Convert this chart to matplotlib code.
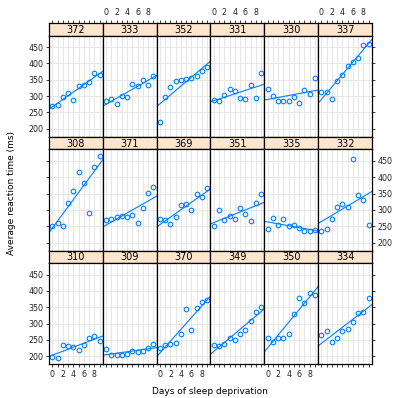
import numpy as np
import matplotlib
matplotlib.use('Agg')
import matplotlib.pyplot as plt

# Reaction times (ms) by subject, days 0..9
days = np.arange(10)
layout = [['372', '333', '352', '331', '330', '337'],
          ['308', '371', '369', '351', '335', '332'],
          ['310', '309', '370', '349', '350', '334']]
reaction = {
    '308': [249.6, 258.7, 250.8, 321.4, 356.9, 414.7, 382.2, 290.1, 430.6, 466.4],
    '309': [222.7, 205.3, 203.0, 204.7, 207.7, 216.0, 213.6, 217.7, 224.3, 237.3],
    '310': [199.1, 194.3, 234.3, 232.8, 229.3, 220.5, 235.4, 255.8, 261.0, 247.5],
    '330': [321.5, 300.4, 283.9, 285.1, 285.8, 297.6, 280.2, 318.3, 305.3, 354.0],
    '331': [287.6, 285.0, 301.8, 320.1, 316.3, 293.3, 290.1, 334.8, 293.7, 371.6],
    '332': [234.9, 242.8, 273.0, 309.8, 317.5, 310.0, 454.2, 346.8, 330.3, 253.9],
    '333': [283.8, 289.6, 276.8, 299.8, 297.2, 338.2, 332.0, 348.8, 333.4, 362.0],
    '334': [264.3, 276.2, 243.4, 254.7, 279.0, 284.2, 305.5, 331.5, 335.7, 377.3],
    '335': [241.6, 273.9, 254.5, 270.8, 251.5, 254.6, 245.5, 235.3, 235.8, 237.2],
    '337': [312.4, 313.8, 291.6, 346.1, 365.7, 391.8, 404.3, 416.7, 455.9, 458.9],
    '349': [236.1, 230.3, 238.9, 254.9, 250.7, 269.8, 281.6, 308.1, 336.3, 351.6],
    '350': [256.3, 243.5, 256.2, 255.5, 268.9, 329.7, 379.4, 362.9, 394.5, 389.1],
    '351': [250.5, 300.1, 269.9, 280.6, 271.8, 304.6, 287.7, 266.6, 321.5, 347.6],
    '352': [221.7, 298.2, 326.9, 346.9, 348.7, 352.8, 354.4, 360.4, 375.6, 388.5],
    '369': [271.9, 268.4, 257.2, 277.7, 314.8, 317.2, 298.1, 348.1, 340.3, 366.5],
    '370': [225.3, 234.5, 238.9, 240.5, 267.5, 344.2, 281.1, 347.6, 365.2, 372.2],
    '371': [269.9, 272.4, 277.9, 281.8, 279.2, 284.5, 259.3, 304.6, 350.8, 369.5],
    '372': [269.4, 273.5, 297.6, 310.6, 287.2, 329.6, 334.5, 343.2, 369.1, 364.1],
}
xticks = list(range(10))
xticklabels = ['0', '', '2', '', '4', '', '6', '', '8', '']
yticks = [200, 250, 300, 350, 400, 450]

W, H = 395, 398
fig = plt.figure(figsize=(W / 100, H / 100), dpi=100)

blue = '#0080ff'
left, top = 49, 23
cw = 53.83
strip_h, panel_h, pitch = 12.5, 101.3, 113.8
xlim = (-0.63, 9.63)
ylim = (175.3, 485.4)

def frac(x, y, w, h):
    return [x / W, 1 - (y + h) / H, w / W, h / H]

for r, row in enumerate(layout):
    for c, subj in enumerate(row):
        x0 = left + c * cw
        ys = top + r * pitch
        # strip
        sax = fig.add_axes(frac(x0, ys, cw, strip_h))
        sax.set_facecolor('#ffe5cc')
        sax.set_xticks([]); sax.set_yticks([])
        sax.text(0.5, 0.45, subj, ha='center', va='center', fontsize=7,
                 transform=sax.transAxes)
        for s in sax.spines.values():
            s.set_linewidth(0.9)
        # panel
        ax = fig.add_axes(frac(x0, ys + strip_h, cw, panel_h))
        ax.set_xlim(xlim); ax.set_ylim(ylim)
        for gx in xticks:
            ax.axvline(gx, color='#e6e6e6', lw=0.7, zorder=0)
        for gy in yticks:
            ax.axhline(gy, color='#e6e6e6', lw=0.7, zorder=0)
        yv = np.array(reaction[subj])
        ax.plot(days, yv, 'o', mfc='none', mec=blue, ms=3.3, mew=0.8)
        b, a = np.polyfit(days, yv, 1)
        ax.axline((0, a), slope=b, color=blue, lw=0.8)
        for s in ax.spines.values():
            s.set_linewidth(0.9)
        ax.set_xticks(xticks); ax.set_yticks(yticks)
        ax.tick_params(direction='out', length=2.5, width=0.6, labelsize=5.7,
                       pad=1.5, colors='#222222',
                       top=False, bottom=False, left=False, right=False,
                       labeltop=False, labelbottom=False,
                       labelleft=False, labelright=False)
        if r == 0:
            sax.set_xticks(xticks)
            sax.set_xticklabels(xticklabels)
            sax.tick_params(axis='x', direction='out', length=2.5, width=0.6,
                            labelsize=5.7, pad=1.5, colors='#222222',
                            top=True, bottom=False,
                            labeltop=(c % 2 == 1), labelbottom=False)
            sax.set_xlim(xlim)
        if r == 2:
            ax.set_xticklabels(xticklabels)
            ax.tick_params(axis='x', bottom=True, labelbottom=(c % 2 == 0))
        if c == 0:
            ax.tick_params(axis='y', left=True, labelleft=(r != 1))
        if c == 5:
            ax.tick_params(axis='y', right=True, labelright=(r == 1))

fig.text(12 / W, 1 - 193 / H, 'Average reaction time (ms)', rotation=90,
         ha='center', va='center', fontsize=6.5)
fig.text(210 / W, 1 - 392 / H, 'Days of sleep deprivation',
         ha='center', va='center', fontsize=6.5)

fig.savefig('out.png', dpi=100)
